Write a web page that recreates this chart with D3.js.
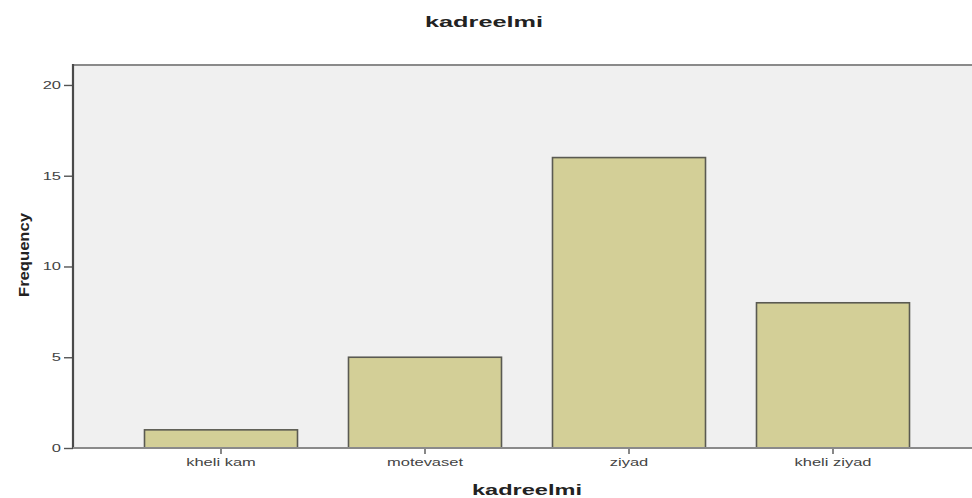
<!DOCTYPE html>
<html>
<head>
<meta charset="utf-8">
<script src="https://cdn.jsdelivr.net/npm/d3@7"></script>
<style>
  html, body { margin: 0; padding: 0; background: #fff; }
  svg { display: block; font-family: "Liberation Sans", Arial, sans-serif; }
</style>
</head>
<body>
<svg id="chart" width="972" height="498"></svg>
<script>
const categories = ["kheli kam", "motevaset", "ziyad", "kheli ziyad"];
const frequencies = [1, 5, 16, 8];
const yTicks = [0, 5, 10, 15, 20];
const chartTitle = "kadreelmi";
const xTitle = "kadreelmi";
const yTitle = "Frequency";

const svg = d3.select("#chart");
const W = 972, H = 498;
const plot = { left: 73, top: 65, right: 980, bottom: 448 };

const y = d3.scaleLinear().domain([0, 21.1]).range([plot.bottom, plot.top]);
const x = d3.scaleBand().domain(categories).range([119, 935])
  .paddingInner(0.25).paddingOuter(0.125);

const SX = 1.65; // horizontal stretch of the reference text

// plot background
svg.append("rect")
  .attr("x", plot.left).attr("y", plot.top)
  .attr("width", plot.right - plot.left).attr("height", plot.bottom - plot.top)
  .attr("fill", "#f0f0f0");

// top border
svg.append("line")
  .attr("x1", plot.left).attr("x2", plot.right)
  .attr("y1", plot.top).attr("y2", plot.top)
  .attr("stroke", "#8a8a8a").attr("stroke-width", 2);

// bars
svg.append("g").selectAll("rect")
  .data(categories.map((c, i) => ({ c, v: frequencies[i] })))
  .join("rect")
  .attr("x", d => x(d.c))
  .attr("y", d => y(d.v))
  .attr("width", x.bandwidth())
  .attr("height", d => y(0) - y(d.v))
  .attr("fill", "#d3cf97")
  .attr("stroke", "#5a5a52")
  .attr("stroke-width", 1.6);

// y axis
const yAxis = svg.append("g")
  .attr("transform", `translate(${plot.left},0)`)
  .call(d3.axisLeft(y).tickValues(yTicks).tickSize(9).tickPadding(2).tickFormat(d3.format("d")));
yAxis.select(".domain").remove();
yAxis.selectAll(".tick line").attr("stroke", "#555").attr("stroke-width", 1.4);
yAxis.selectAll(".tick text").remove();
yAxis.selectAll(".tick").append("g")
  .attr("transform", "translate(-12,0)")
  .append("text")
  .attr("transform", `scale(${SX},1)`)
  .attr("text-anchor", "end")
  .attr("dy", "0.35em")
  .attr("font-size", 10)
  .attr("fill", "#444")
  .text(d => d);
svg.append("line")
  .attr("x1", plot.left).attr("x2", plot.left)
  .attr("y1", plot.top - 1).attr("y2", plot.bottom + 1)
  .attr("stroke", "#4a4a4a").attr("stroke-width", 2.2);

// x axis
const xAxis = svg.append("g")
  .attr("transform", `translate(0,${plot.bottom})`)
  .call(d3.axisBottom(x).tickSize(6).tickSizeOuter(0));
xAxis.select(".domain").remove();
xAxis.selectAll(".tick line").attr("stroke", "#555").attr("stroke-width", 1.4);
xAxis.selectAll(".tick text").remove();
xAxis.selectAll(".tick").append("g")
  .attr("transform", "translate(0,18)")
  .append("text")
  .attr("transform", `scale(${SX},1)`)
  .attr("text-anchor", "middle")
  .attr("font-size", 10)
  .attr("fill", "#444")
  .text(d => d);
svg.append("line")
  .attr("x1", plot.left).attr("x2", plot.right)
  .attr("y1", plot.bottom).attr("y2", plot.bottom)
  .attr("stroke", "#8a8a8a").attr("stroke-width", 2);

// titles
svg.append("text")
  .attr("x", 484).attr("y", 27)
  .attr("text-anchor", "middle")
  .attr("font-size", 15).attr("font-weight", "bold")
  .attr("fill", "#222")
  .attr("textLength", 118).attr("lengthAdjust", "spacingAndGlyphs")
  .text(chartTitle);

svg.append("text")
  .attr("x", (x.range()[0] + x.range()[1]) / 2).attr("y", 495)
  .attr("text-anchor", "middle")
  .attr("font-size", 14).attr("font-weight", "bold")
  .attr("fill", "#222")
  .attr("textLength", 110).attr("lengthAdjust", "spacingAndGlyphs")
  .text(xTitle);

svg.append("text")
  .attr("transform", "translate(29,255) rotate(-90)")
  .attr("text-anchor", "middle")
  .attr("font-size", 14).attr("font-weight", "bold")
  .attr("fill", "#222")
  .attr("textLength", 84).attr("lengthAdjust", "spacingAndGlyphs")
  .text(yTitle);
</script>
</body>
</html>
